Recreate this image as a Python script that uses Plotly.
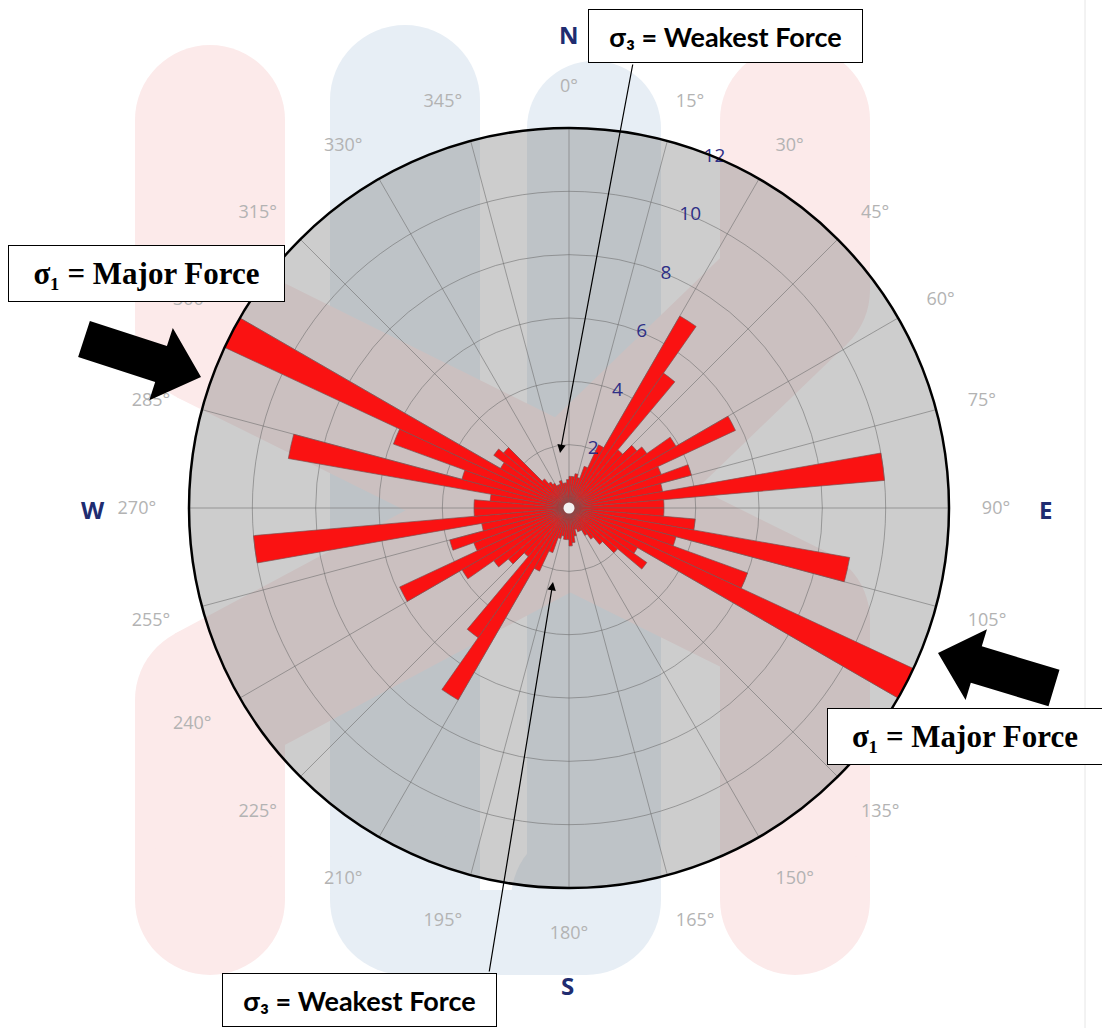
import math
import plotly.graph_objects as go

W, H = 1102, 1028

# ---------------- data ----------------
bin_centers = [2.5, 7.5, 12.5, 17.5, 22.5, 27.5, 32.5, 37.5, 42.5, 47.5, 52.5, 57.5,
               62.5, 67.5, 72.5, 77.5, 82.5, 87.5, 92.5, 97.5, 102.5, 107.5, 112.5, 117.5,
               122.5, 127.5, 132.5, 137.5, 142.5, 147.5, 152.5, 157.5, 162.5, 167.5, 172.5, 177.5,
               182.5, 187.5, 192.5, 197.5, 202.5, 207.5, 212.5, 217.5, 222.5, 227.5, 232.5, 237.5,
               242.5, 247.5, 252.5, 257.5, 262.5, 267.5, 272.5, 277.5, 282.5, 287.5, 292.5, 297.5,
               302.5, 307.5, 312.5, 317.5, 322.5, 327.5, 332.5, 337.5, 342.5, 347.5, 352.5, 357.5]
counts = [1.0, 1.0, 1.1, 1.0, 1.4, 2.2, 7.0, 5.2, 2.4, 2.8, 3.0, 3.9,
          5.8, 3.1, 4.0, 3.0, 10.0, 3.0, 3.0, 4.0, 9.0, 3.5, 6.0, 12.0,
          2.5, 3.0, 2.0, 1.5, 1.2, 1.0, 0.8, 0.8, 0.7, 0.9, 1.1, 1.2,
          1.0, 1.0, 0.9, 1.0, 1.5, 2.2, 7.0, 5.0, 2.0, 2.5, 2.9, 3.9,
          5.9, 3.2, 3.9, 2.8, 10.0, 3.0, 3.0, 2.5, 9.0, 3.5, 5.9, 12.0,
          2.5, 2.9, 2.7, 1.2, 1.0, 0.9, 0.8, 0.8, 0.9, 0.8, 0.8, 0.9]
angle_ticks = [0, 15, 30, 45, 60, 75, 90, 105, 120, 135, 150, 165,
               180, 195, 210, 225, 240, 255, 270, 285, 300, 315, 330, 345]
angle_labels = [f"{a}°" for a in angle_ticks]
radial_ticks = [2, 4, 6, 8, 10, 12]
radial_labels = ["2", "4", "6", "8", "10", "12"]
compass = ["N", "E", "S", "W"]
sigma3_text = "σ₃ = Weakest Force"
sigma1_text = "σ₁ = Major Force"

# ---------------- helpers (pixel -> paper) ----------------
def px(x):
    return x / W

def py(y):
    return 1 - y / H

PINK = "#FCEAEA"
BLUE = "#E7EEF5"

shapes = []

def rect(x0, y0, x1, y1, color):
    shapes.append(dict(type="rect", xref="paper", yref="paper",
                       x0=px(x0), x1=px(x1), y0=py(y1), y1=py(y0),
                       fillcolor=color, line_width=0, layer="below"))

def circ(cx, cy, r, color):
    shapes.append(dict(type="circle", xref="paper", yref="paper",
                       x0=px(cx - r), x1=px(cx + r), y0=py(cy + r), y1=py(cy - r),
                       fillcolor=color, line_width=0, layer="below"))

def poly(pts, color, layer="below"):
    path = "M " + " L ".join(f"{px(x):.5f},{py(y):.5f}" for x, y in pts) + " Z"
    shapes.append(dict(type="path", xref="paper", yref="paper", path=path,
                       fillcolor=color, line_width=0, layer=layer))

def band(p, q, w, color):
    dx, dy = q[0] - p[0], q[1] - p[1]
    L = math.hypot(dx, dy)
    nx, ny = -dy / L * w / 2, dx / L * w / 2
    poly([(p[0] + nx, p[1] + ny), (q[0] + nx, q[1] + ny),
          (q[0] - nx, q[1] - ny), (p[0] - nx, p[1] - ny)], color)

def block_arrow(T, P, shaft_hw, head_hw, head_len):
    dx, dy = P[0] - T[0], P[1] - T[1]
    L = math.hypot(dx, dy)
    ux, uy = dx / L, dy / L
    nx, ny = -uy, ux
    B = (P[0] - ux * head_len, P[1] - uy * head_len)
    pts = [(T[0] + nx * shaft_hw, T[1] + ny * shaft_hw),
           (B[0] + nx * shaft_hw, B[1] + ny * shaft_hw),
           (B[0] + nx * head_hw, B[1] + ny * head_hw),
           P,
           (B[0] - nx * head_hw, B[1] - ny * head_hw),
           (B[0] - nx * shaft_hw, B[1] - ny * shaft_hw),
           (T[0] - nx * shaft_hw, T[1] - ny * shaft_hw)]
    poly(pts, "black", layer="above")

# ---------------- faint background watermark ----------------
# blue "U"
circ(405, 100, 75, BLUE)
rect(330, 100, 480, 900, BLUE)
circ(594, 128, 67, BLUE)
rect(527, 128, 661, 900, BLUE)
rect(470, 890, 540, 975, BLUE)
circ(405, 900, 75, BLUE)
circ(586, 900, 75, BLUE)
rect(405, 900, 586, 975, BLUE)
# pink "X"
circ(210, 120, 75, PINK)
rect(135, 120, 285, 330, PINK)
circ(210, 330, 75, PINK)
band((210, 330), (569, 508), 150, PINK)
circ(569, 508, 75, PINK)
band((569, 508), (795, 620), 150, PINK)
circ(795, 620, 75, PINK)
rect(720, 620, 870, 900, PINK)
circ(795, 900, 75, PINK)
circ(795, 120, 75, PINK)
rect(720, 120, 870, 290, PINK)
circ(795, 290, 75, PINK)
band((795, 290), (569, 508), 150, PINK)
band((569, 508), (210, 700), 150, PINK)
circ(210, 700, 75, PINK)
rect(135, 700, 285, 900, PINK)
circ(210, 900, 75, PINK)

# page edge line
shapes.append(dict(type="line", xref="paper", yref="paper", x0=px(1085), x1=px(1085),
                   y0=0, y1=1, line=dict(color="#e6e6e6", width=1), layer="below"))

# black block arrows
block_arrow((84, 339), (201, 377), 19, 38, 42)
block_arrow((1054, 688), (938, 653), 19, 37, 40)

# ---------------- figure ----------------
fig = go.Figure()
fig.add_trace(go.Barpolar(
    r=counts, theta=bin_centers, width=5,
    marker=dict(color="rgb(250,18,18)", line=dict(color="rgba(125,80,80,0.85)", width=0.8)),
    hoverinfo="r+theta", showlegend=False,
))
fig.add_trace(go.Scatterpolar(
    r=[0], theta=[0], mode="markers",
    marker=dict(size=11, color="#f2f2f2", line=dict(width=0)),
    showlegend=False, hoverinfo="skip",
))
fig.add_trace(go.Scatterpolar(
    r=radial_ticks, theta=[22.5] * len(radial_ticks), mode="text",
    text=radial_labels, textposition="middle center",
    textfont=dict(family="Open Sans", size=19, color="#2e2f86"),
    cliponaxis=False, showlegend=False, hoverinfo="skip",
))

fig.update_layout(
    width=W, height=H,
    margin=dict(l=0, r=0, t=0, b=0),
    paper_bgcolor="white",
    showlegend=False,
    shapes=shapes,
    polar=dict(
        domain=dict(x=[px(189), px(949)], y=[py(888), py(128)]),
        bgcolor="rgba(130,130,130,0.40)",
        angularaxis=dict(
            direction="clockwise", rotation=90,
            tickmode="array", tickvals=angle_ticks, ticktext=angle_labels,
            tickfont=dict(family="Open Sans", size=18, color="#b3b3b3"),
            ticks="outside", ticklen=28, tickcolor="rgba(0,0,0,0)",
            showline=True, linecolor="black", linewidth=2.5,
            gridcolor="rgba(105,105,105,0.55)", gridwidth=1,
        ),
        radialaxis=dict(
            range=[0, 12], tickmode="array", tickvals=radial_ticks,
            showticklabels=False, ticks="", showline=False,
            gridcolor="rgba(105,105,105,0.55)", gridwidth=1,
            angle=67.5,
        ),
    ),
)

annotations = []
# compass letters
for letter, (x, y) in zip(compass, [(569, 35), (1045, 509), (567, 985), (93, 509)]):
    annotations.append(dict(x=px(x), y=py(y), xref="paper", yref="paper", text=letter,
                            showarrow=False, xanchor="center", yanchor="middle",
                            font=dict(family="Open Sans", size=24, color="#202c70", weight="bold")))

box_font3 = dict(family="Lato", size=27, color="black", weight="bold")
box_font1 = dict(family="Liberation Serif", size=31, color="black", weight="bold")

# sigma3 top box
annotations.append(dict(x=px(725.5), y=py(36), xref="paper", yref="paper", text=sigma3_text,
                        showarrow=False, xanchor="center", yanchor="middle", font=box_font3,
                        bgcolor="white", bordercolor="black", borderwidth=1, borderpad=0,
                        width=273, height=52))
# sigma3 bottom box
annotations.append(dict(x=px(359.5), y=py(1000), xref="paper", yref="paper", text=sigma3_text,
                        showarrow=False, xanchor="center", yanchor="middle", font=box_font3,
                        bgcolor="white", bordercolor="black", borderwidth=1, borderpad=0,
                        width=273, height=52))
# sigma1 boxes
annotations.append(dict(x=px(146.5), y=py(273.5), xref="paper", yref="paper", text=sigma1_text,
                        showarrow=False, xanchor="center", yanchor="middle", font=box_font1,
                        bgcolor="white", bordercolor="black", borderwidth=1, borderpad=0,
                        width=275, height=55))
annotations.append(dict(x=px(964.5), y=py(736.5), xref="paper", yref="paper", text=sigma1_text,
                        showarrow=False, xanchor="center", yanchor="middle", font=box_font1,
                        bgcolor="white", bordercolor="black", borderwidth=1, borderpad=0,
                        width=274, height=55))
# thin arrows
annotations.append(dict(x=px(560), y=py(453), xref="paper", yref="paper", text="",
                        showarrow=True, ax=633 - 560, ay=63 - 453,
                        arrowhead=2, arrowsize=1.4, arrowwidth=1.2, arrowcolor="black"))
annotations.append(dict(x=px(553), y=py(582), xref="paper", yref="paper", text="",
                        showarrow=True, ax=489 - 553, ay=973 - 582,
                        arrowhead=2, arrowsize=1.4, arrowwidth=1.2, arrowcolor="black"))
fig.update_layout(annotations=annotations)

fig.write_html("out.html",
               config={"displayModeBar": False},
               post_script="document.body.style.margin='0px';document.body.style.overflow='hidden';")
